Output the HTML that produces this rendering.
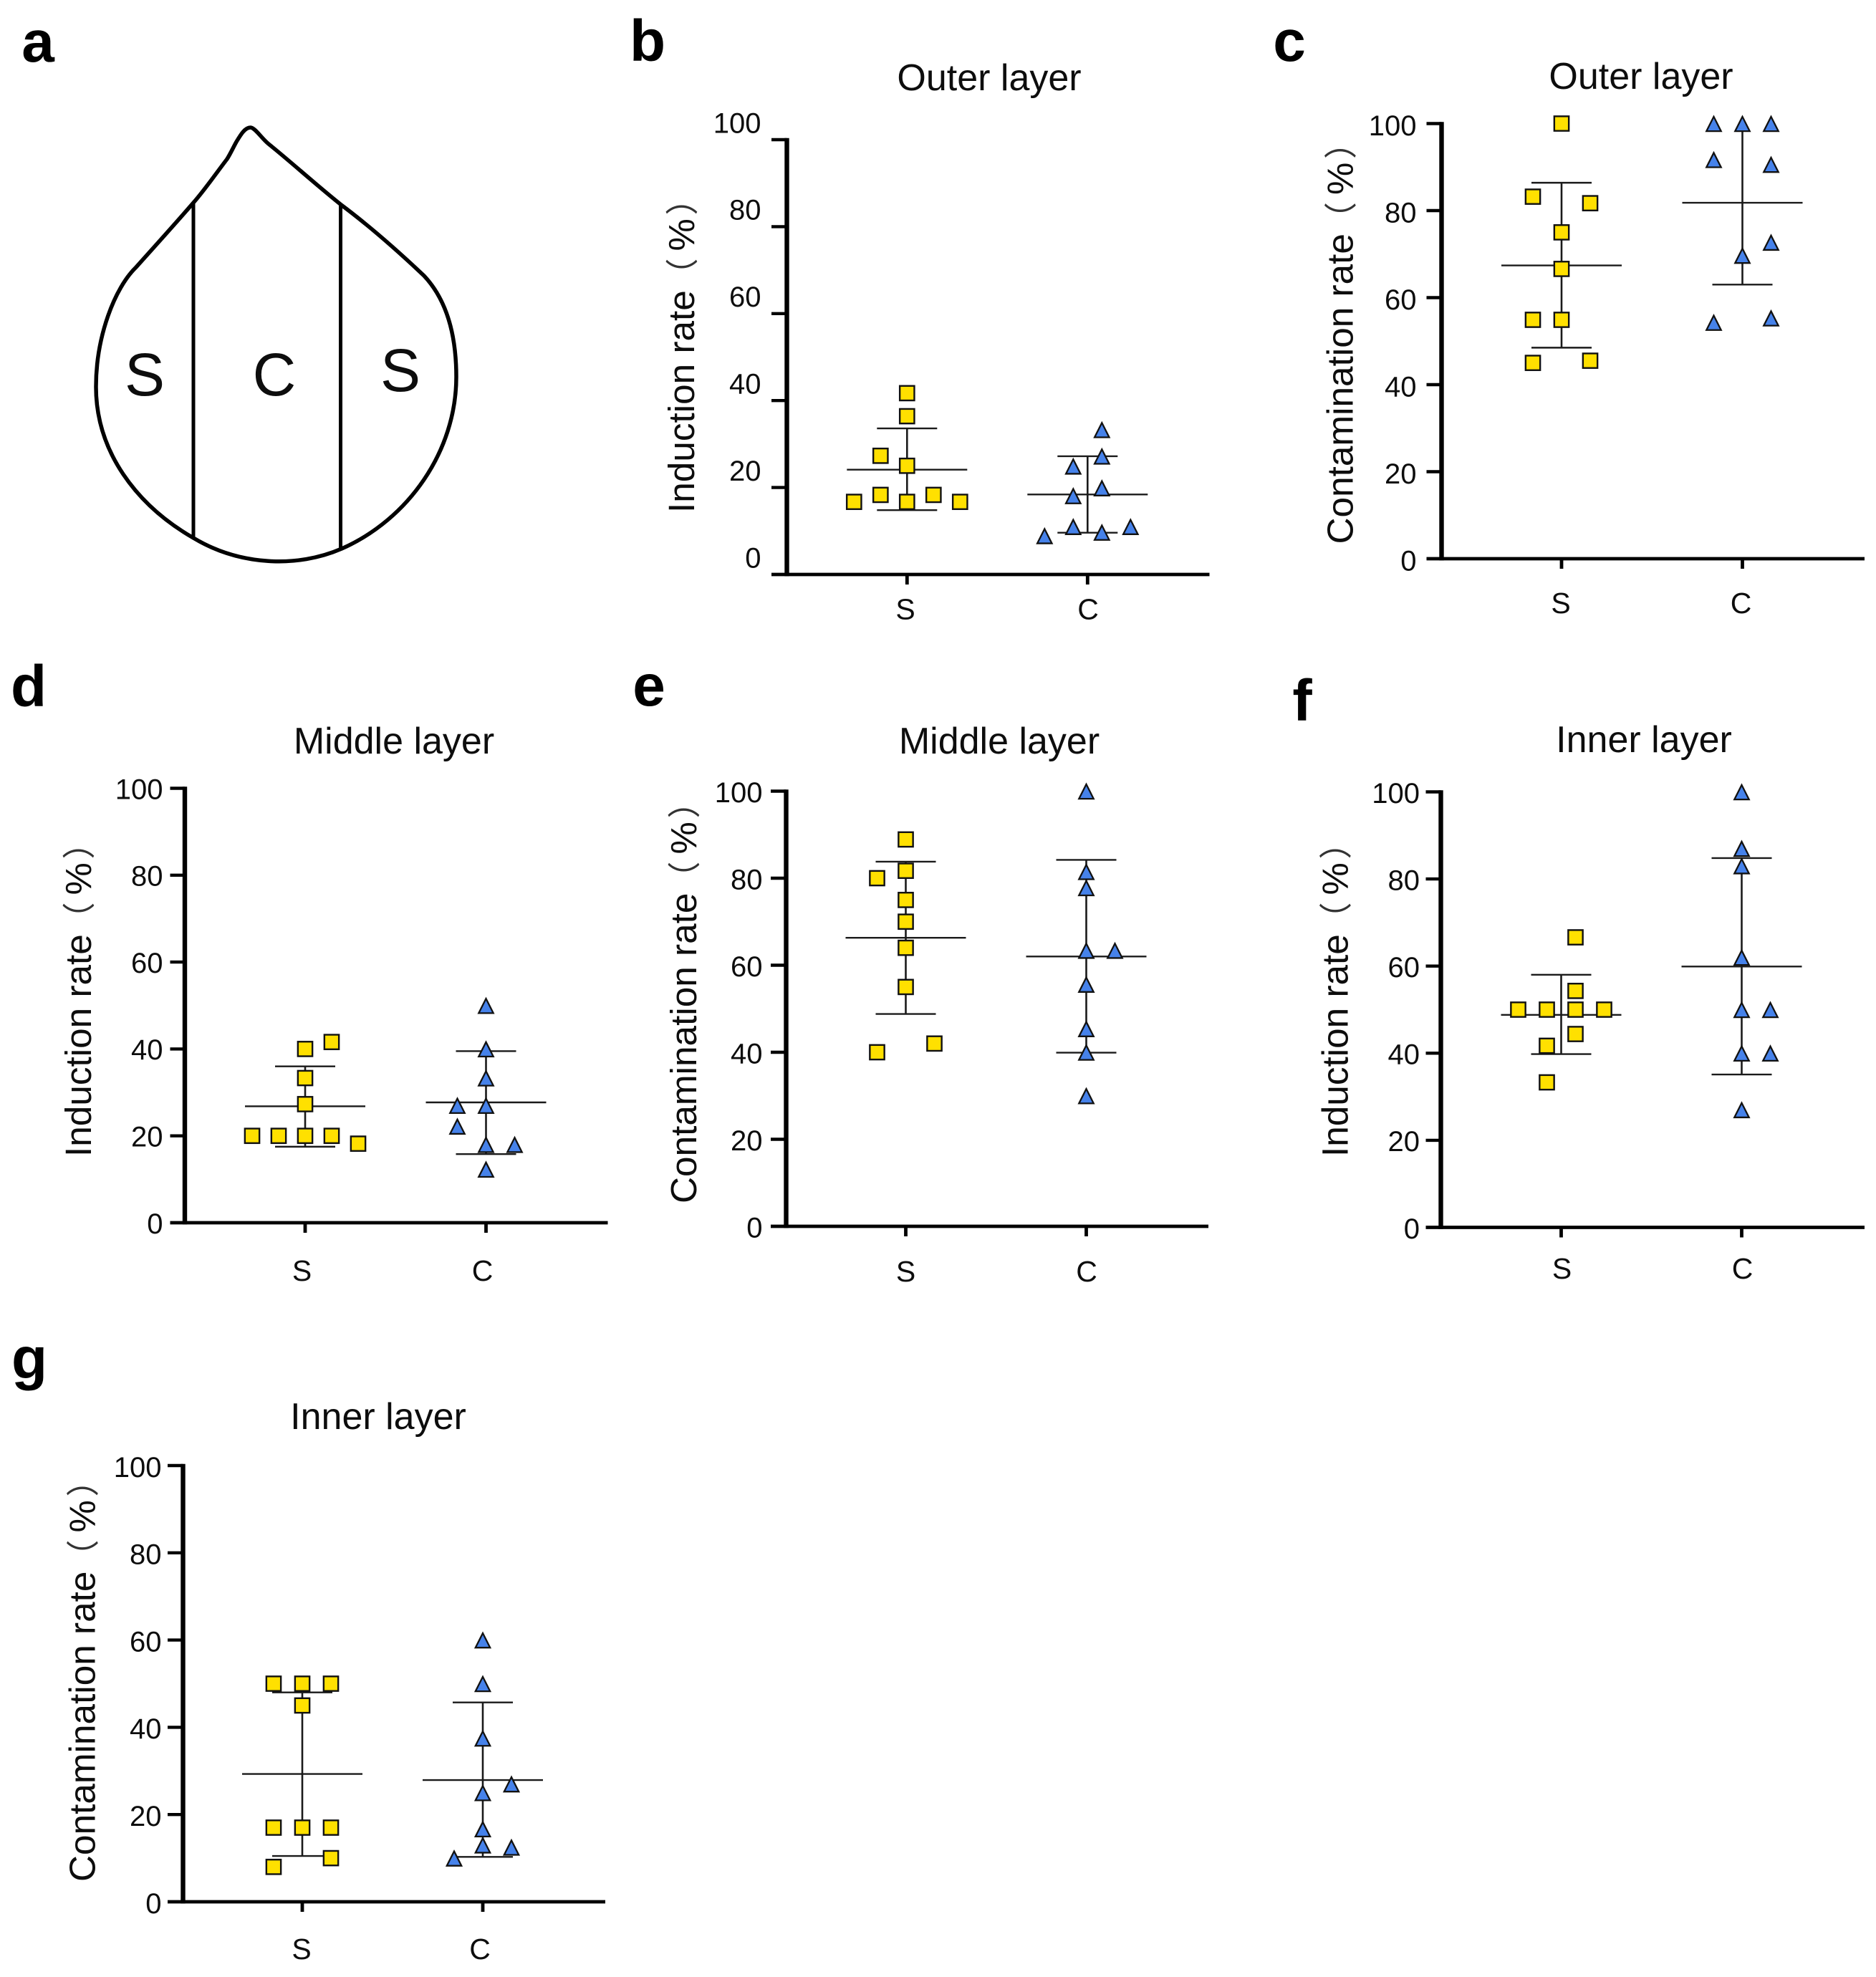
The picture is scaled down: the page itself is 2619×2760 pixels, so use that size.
<!DOCTYPE html>
<html lang="en">
<head>
<meta charset="utf-8">
<title>Induction and contamination rates by leaf layer</title>
<style>
html,body{margin:0;padding:0;background:#fff}
svg{display:block}
text{font-family:"Liberation Sans","Noto Sans CJK SC",sans-serif;fill:#0d0d0d}
.letter{font-size:82px;font-weight:bold;text-anchor:middle;fill:#000}
.title{font-size:52px;text-anchor:middle}
.ytitle{font-size:51.3px}
.pct-paren{font-size:46px;fill:#333}
.pct-sign{font-size:51px}
.leaf-label{font-size:84px;text-anchor:middle}
</style>
</head>
<body>
<svg id="figure" xmlns="http://www.w3.org/2000/svg" width="2619" height="2760" viewBox="0 0 2619 2760">
  <rect width="2619" height="2760" fill="#fff"/>

  <g id="panel-a">
    <text class="letter" x="53" y="86">a</text>
    <path id="leaf-outline" fill="none" stroke="#000" stroke-width="5.5" stroke-linejoin="round"
      d="M349.5 178C342 178 336 188 330 198C325 207 322 214 317 222C301 243 285 266 270 283C245 312 215 345 190 373C160 402 134 470 134 540C134 630 190 705 270 751C335 790 415 793 477 766C570 725 637 630 637 526C637 465 622 417 592 385C555 350 515 315 477 286.5C440 257 405 225 375 201C365 193 356 178 349.5 178Z"/>
    <line x1="270" y1="283" x2="270" y2="751" stroke="#000" stroke-width="5"/>
    <line x1="475.5" y1="286" x2="475.5" y2="766" stroke="#000" stroke-width="5"/>
    <text class="leaf-label" x="202" y="552">S</text>
    <text class="leaf-label" x="383" y="552">C</text>
    <text class="leaf-label" x="559" y="546">S</text>
  </g>

  <g id="panel-b">
    <text class="letter" x="904" y="85">b</text>
    <text class="title" x="1381" y="126">Outer layer</text>
    <text class="ytitle" transform="translate(969 716) rotate(-90)">Induction rate<tspan class="pct-paren" x="309.5">（</tspan><tspan class="pct-sign" x="365.5">%</tspan><tspan class="pct-paren" x="415.5">）</tspan></text>
  </g>
  <g id="panel-c">
    <text class="letter" x="1800" y="85">c</text>
    <text class="title" x="2291" y="124">Outer layer</text>
    <text class="ytitle" transform="translate(1888.5 759.5) rotate(-90)">Contamination rate<tspan class="pct-paren" x="431.5">（</tspan><tspan class="pct-sign" x="487.5">%</tspan><tspan class="pct-paren" x="537.5">）</tspan></text>
  </g>
  <g id="panel-d">
    <text class="letter" x="40" y="986">d</text>
    <text class="title" x="550" y="1052">Middle layer</text>
    <text class="ytitle" transform="translate(127 1615) rotate(-90)">Induction rate<tspan class="pct-paren" x="309.5">（</tspan><tspan class="pct-sign" x="365.5">%</tspan><tspan class="pct-paren" x="415.5">）</tspan></text>
  </g>
  <g id="panel-e">
    <text class="letter" x="906" y="985">e</text>
    <text class="title" x="1395" y="1052">Middle layer</text>
    <text class="ytitle" transform="translate(972 1680) rotate(-90)">Contamination rate<tspan class="pct-paren" x="431.5">（</tspan><tspan class="pct-sign" x="487.5">%</tspan><tspan class="pct-paren" x="537.5">）</tspan></text>
  </g>
  <g id="panel-f">
    <text class="letter" x="1818" y="1006">f</text>
    <text class="title" x="2295" y="1050">Inner layer</text>
    <text class="ytitle" transform="translate(1881.5 1615) rotate(-90)">Induction rate<tspan class="pct-paren" x="309.5">（</tspan><tspan class="pct-sign" x="365.5">%</tspan><tspan class="pct-paren" x="415.5">）</tspan></text>
  </g>
  <g id="panel-g">
    <text class="letter" x="41" y="1924">g</text>
    <text class="title" x="528" y="1995">Inner layer</text>
    <text class="ytitle" transform="translate(132.5 2627) rotate(-90)">Contamination rate<tspan class="pct-paren" x="431.5">（</tspan><tspan class="pct-sign" x="487.5">%</tspan><tspan class="pct-paren" x="537.5">）</tspan></text>
  </g>
</svg>

<script>
// ---- shared axis data ----
const categories = ['S', 'C'];
const yTickValues = [0, 20, 40, 60, 80, 100];
const yTickLabels = ['0', '20', '40', '60', '80', '100'];

// ---- panel b: outer layer, induction ----
const bSValues = [41.7, 36.4, 27.3, 25, 18.3, 18.3, 16.7, 16.7, 16.7];
const bSSlots = [0, 0, -1, 0, -1, 1, -2, 0, 2];
const bCValues = [33.3, 27.2, 24.9, 19.9, 18.1, 11, 11, 9.7, 8.9];
const bCSlots = [0.5, 0.5, -0.5, 0.5, -0.5, -0.5, 1.5, 0.5, -1.5];
const bMeans = [24.1, 18.4];
const bHighs = [33.6, 27.2];
const bLows = [14.8, 9.6];

// ---- panel c: outer layer, contamination ----
const cSValues = [100, 83.2, 81.7, 75, 66.6, 54.9, 54.9, 45.5, 45];
const cSSlots = [0, -1, 1, 0, 0, -1, 0, 1, -1];
const cCValues = [100, 100, 100, 91.7, 90.6, 72.7, 69.7, 55.3, 54.3];
const cCSlots = [-1, 0, 1, -1, 1, 1, 0, 1, -1];
const cMeans = [67.4, 81.8];
const cHighs = [86.4, 100];
const cLows = [48.5, 63];

// ---- panel d: middle layer, induction ----
const dSValues = [41.6, 40, 33.3, 27.3, 20, 20, 20, 20, 18.2];
const dSSlots = [1, 0, 0, 0, -2, -1, 0, 1, 2];
const dCValues = [50, 40, 33.3, 27, 27, 22.2, 18, 18, 12.3];
const dCSlots = [0, 0, 0, -1, 0, -1, 0, 1, 0];
const dMeans = [26.8, 27.7];
const dHighs = [36, 39.5];
const dLows = [17.5, 15.8];

// ---- panel e: middle layer, contamination ----
const eSValues = [88.9, 81.7, 80, 75, 70, 64, 55, 42, 40];
const eSSlots = [0, 0, -1, 0, 0, 0, 0, 1, -1];
const eCValues = [100, 81.5, 77.8, 63.4, 63.4, 55.6, 45.4, 40, 30];
const eCSlots = [0, 0, 0, 0, 1, 0, 0, 0, 0];
const eMeans = [66.3, 62];
const eHighs = [83.8, 84.2];
const eLows = [48.8, 39.9];

// ---- panel f: inner layer, induction ----
const fSValues = [66.6, 54.3, 50, 50, 50, 50, 44.4, 41.7, 33.3];
const fSSlots = [0.5, 0.5, -1.5, -0.5, 0.5, 1.5, 0.5, -0.5, -0.5];
const fCValues = [100, 87, 83, 62, 50, 50, 40, 40, 27];
const fCSlots = [0, 0, 0, 0, 0, 1, 0, 1, 0];
const fMeans = [48.8, 59.9];
const fHighs = [58, 84.8];
const fLows = [39.8, 35.1];

// ---- panel g: inner layer, contamination ----
const gSValues = [50, 50, 50, 45, 17, 17, 17, 10, 8];
const gSSlots = [-1, 0, 1, 0, -1, 0, 1, 1, -1];
const gCValues = [60, 50, 37.5, 27, 25, 16.7, 13, 12.5, 10];
const gCSlots = [0, 0, 0, 1, 0, 0, 0, 1, -1];
const gMeans = [29.3, 27.9];
const gHighs = [48, 45.7];
const gLows = [10.5, 10.3];

const SVG_NS = 'http://www.w3.org/2000/svg';

function make(tag, parent, attrs) {
  const el = document.createElementNS(SVG_NS, tag);
  for (const k in attrs) el.setAttribute(k, attrs[k]);
  parent.appendChild(el);
  return el;
}

function drawPanel(cfg) {
  const root = document.getElementById('panel-' + cfg.id);
  const yScale = v => cfg.y0 - (v / 100) * (cfg.y0 - cfg.y100);
  const xScale = (catIndex, slot, spacing) => cfg.catX[catIndex] + slot * spacing;

  // error bars and means
  categories.forEach((cat, i) => {
    const cx = xScale(i, 0, 0);
    const stem = make('line', root, {x1: cx, x2: cx, y1: yScale(cfg.highs[i]), y2: yScale(cfg.lows[i]), stroke: '#1a1a1a', 'stroke-width': 2.6});
    
    
    const mean = make('line', root, {x1: cx - 84, x2: cx + 84, y1: yScale(cfg.means[i]), y2: yScale(cfg.means[i]), stroke: '#1a1a1a', 'stroke-width': 2.4});
    
    
    if (cfg.highs[i] < 100) {
      const top = make('line', root, {x1: cx - 42, x2: cx + 42, y1: yScale(cfg.highs[i]), y2: yScale(cfg.highs[i]), stroke: '#1a1a1a', 'stroke-width': 2.4});
      
      
    }
    const bottom = make('line', root, {x1: cx - 42, x2: cx + 42, y1: yScale(cfg.lows[i]), y2: yScale(cfg.lows[i]), stroke: '#1a1a1a', 'stroke-width': 2.4});
    
    
  });

  // axes
  const yAxis = make('line', root, {x1: cfg.axisX, x2: cfg.axisX, y1: yScale(100) - 2.2, y2: yScale(0) + 2.4, stroke: '#000', 'stroke-width': 6.4});
  
  
  const xAxis = make('line', root, {x1: cfg.tickLeft, x2: cfg.axisRight, y1: yScale(0), y2: yScale(0), stroke: '#000', 'stroke-width': 4.8});
  
  

  yTickValues.forEach((v, i) => {
    if (v > 0) {
      const tick = make('line', root, {x1: cfg.tickLeft, x2: cfg.axisX, y1: yScale(v), y2: yScale(v), stroke: '#000', 'stroke-width': 4.4});
      
      
    }
    const label = make('text', root, {x: cfg.labelRight, y: yScale(v) + cfg.labelOffset + 14.3, 'font-size': 40, 'text-anchor': 'end'});
    label.textContent = yTickLabels[i];
    
    
  });

  categories.forEach((cat, i) => {
    const cx = xScale(i, 0, 0);
    const tick = make('line', root, {x1: cx, x2: cx, y1: yScale(0), y2: yScale(0) + 14, stroke: '#000', 'stroke-width': 4.8});
    
    
    const label = make('text', root, {x: cfg.catLabelX[i], y: cfg.catLabelY + 14, 'font-size': 41, 'text-anchor': 'middle'});
    label.textContent = cat;
    
    
  });

  // S markers: yellow squares
  cfg.sValues.forEach((v, i) => {
    const cx = xScale(0, cfg.sSlots[i], cfg.sSpacing), cy = yScale(v);
    const sq = make('rect', root, {x: cx - 10.15, y: cy - 10.15, width: 20.3, height: 20.3, fill: '#FFE000', stroke: '#111', 'stroke-width': 2.4});
    
    
  });

  // C markers: blue triangles
  cfg.cValues.forEach((v, i) => {
    const cx = xScale(1, cfg.cSlots[i], cfg.cSpacing), cy = yScale(v);
    const pts = [[cx, cy - 9.6], [cx - 10.2, cy + 10.6], [cx + 10.2, cy + 10.6]].map(p => p.join(',')).join(' ');
    const tri = make('polygon', root, {points: pts, fill: '#4682EA', stroke: '#111', 'stroke-width': 2.3, 'stroke-linejoin': 'miter'});
    
    
  });
}

drawPanel({id: 'b', axisX: 1098.5, tickLeft: 1077, axisRight: 1688.5, y0: 802, y100: 195, catX: [1266.3, 1518.3],
  labelRight: 1062.5, labelOffset: -24, catLabelX: [1264, 1519], catLabelY: 850.5, sSpacing: 37, cSpacing: 40,
  sValues: bSValues, sSlots: bSSlots, cValues: bCValues, cSlots: bCSlots, means: bMeans, highs: bHighs, lows: bLows});

drawPanel({id: 'c', axisX: 2012.5, tickLeft: 1991.5, axisRight: 2603, y0: 780, y100: 172.5, catX: [2180, 2432.5],
  labelRight: 1977.5, labelOffset: 2, catLabelX: [2179, 2430.5], catLabelY: 842, sSpacing: 40, cSpacing: 40,
  sValues: cSValues, sSlots: cSSlots, cValues: cCValues, cSlots: cCSlots, means: cMeans, highs: cHighs, lows: cLows});

drawPanel({id: 'd', axisX: 258, tickLeft: 237.5, axisRight: 848.5, y0: 1707, y100: 1100.5, catX: [426, 678.5],
  labelRight: 227.5, labelOffset: 0.5, catLabelX: [421.5, 673.5], catLabelY: 1774, sSpacing: 37, cSpacing: 40,
  sValues: dSValues, sSlots: dSSlots, cValues: dCValues, cSlots: dCSlots, means: dMeans, highs: dHighs, lows: dLows});

drawPanel({id: 'e', axisX: 1097.5, tickLeft: 1076, axisRight: 1687, y0: 1712, y100: 1104.5, catX: [1264.5, 1516.5],
  labelRight: 1064.5, labelOffset: 1, catLabelX: [1264.5, 1517], catLabelY: 1775, sSpacing: 40, cSpacing: 40,
  sValues: eSValues, sSlots: eSSlots, cValues: eCValues, cSlots: eCSlots, means: eMeans, highs: eHighs, lows: eLows});

drawPanel({id: 'f', axisX: 2011.5, tickLeft: 1990.5, axisRight: 2603, y0: 1713.5, y100: 1105.5, catX: [2179.5, 2431.5],
  labelRight: 1982, labelOffset: 1, catLabelX: [2180.5, 2432.5], catLabelY: 1771, sSpacing: 40, cSpacing: 40,
  sValues: fSValues, sSlots: fSSlots, cValues: fCValues, cSlots: fCSlots, means: fMeans, highs: fHighs, lows: fLows});

drawPanel({id: 'g', axisX: 255.5, tickLeft: 234, axisRight: 845, y0: 2655, y100: 2046, catX: [422, 674],
  labelRight: 225.5, labelOffset: 1.5, catLabelX: [421, 670], catLabelY: 2721, sSpacing: 40, cSpacing: 40,
  sValues: gSValues, sSlots: gSSlots, cValues: gCValues, cSlots: gCSlots, means: gMeans, highs: gHighs, lows: gLows});
</script>
</body>
</html>
